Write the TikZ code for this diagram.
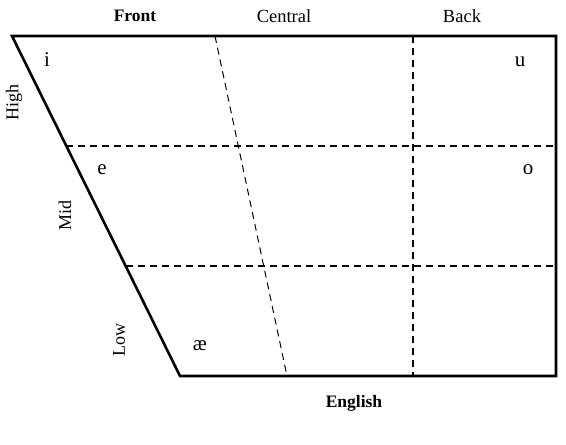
\documentclass[tikz,border=0pt]{standalone}
\usepackage{fontspec}
\setmainfont{Liberation Serif}
\usetikzlibrary{calc}

\begin{document}
\begin{tikzpicture}[
  x=1pt, y=-1pt,
  frame/.style={line width=2.6pt, line join=miter},
  grid/.style={line width=1.2pt, dash pattern=on 7pt off 5pt},
  head/.style={font=\fontsize{17.5}{19}\selectfont\bfseries},
  col/.style={font=\fontsize{18.5}{20}\selectfont},
  side/.style={font=\fontsize{18}{20}\selectfont, rotate=90},
  vowel/.style={font=\fontsize{21}{23}\selectfont}
]
  \useasboundingbox (0,0) rectangle (566,445);
  % corners of the chart
  \coordinate (tl) at (12,36);
  \coordinate (tr) at (556,36);
  \coordinate (br) at (556,376);
  \coordinate (bl) at (180,376);
  % grid lines
  \coordinate (hm) at ($(tl)!0.3235!(bl)$);
  \coordinate (lm) at ($(tl)!0.6765!(bl)$);
  \coordinate (ct) at (215,36);
  \coordinate (cb) at (287,376);
  \coordinate (bt) at (413,36);
  \coordinate (bb) at (413,376);
  \draw[grid] (hm) -- (hm -| tr);
  \draw[grid] (lm) -- (lm -| tr);
  \draw[grid, line width=1pt] (ct) -- (cb);
  \draw[grid] (bt) -- (bb);
  \draw[frame] (tl) -- (tr) -- (br) -- (bl) -- cycle;
  % column heads
  \node[head] (front) at (135,16) {Front};
  \node[col] (central) at (284,16) {Central};
  \node[col] (back) at (462,16) {Back};
  % row labels
  \node[side] (high) at (14,102) {High};
  \node[side] (mid) at (65,215) {Mid};
  \node[side] (low) at (119,340) {Low};
  % vowels
  \node[vowel] (i) at (47,60) {i};
  \node[vowel] (u) at (520,62) {u};
  \node[vowel] (e) at (102,170) {e};
  \node[vowel] (o) at (528,170) {o};
  \node[vowel] (ae) at (200,346) {æ};
  % caption
  \node[head] (lang) at (354,403) {English};
\end{tikzpicture}
\end{document}
